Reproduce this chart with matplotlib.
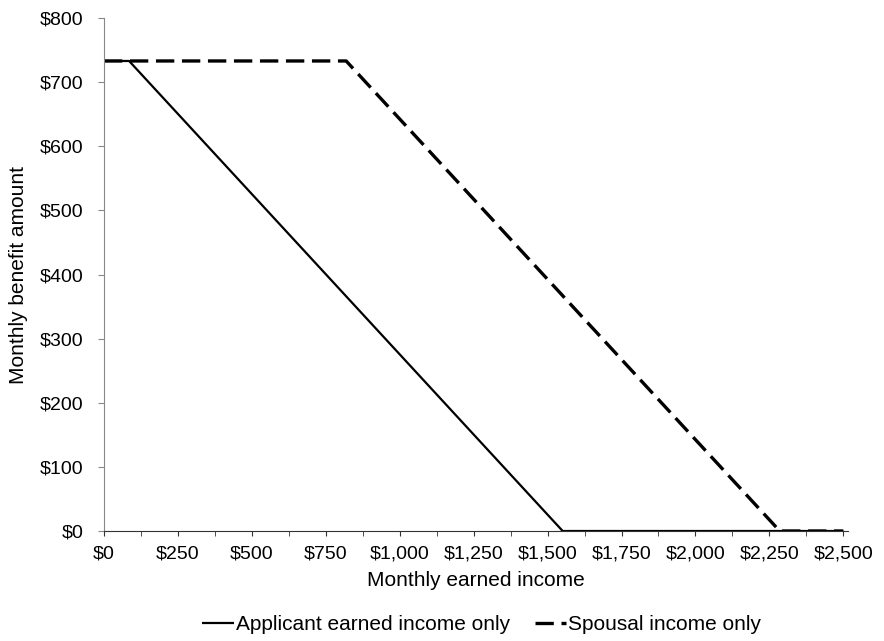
import numpy as np
import matplotlib
matplotlib.use("Agg")
import matplotlib.pyplot as plt
from matplotlib.ticker import MultipleLocator, FuncFormatter

plt.rcParams['font.family'] = ['Liberation Sans', 'DejaVu Sans']

# monthly earned income breakpoints and benefit amounts
applicant_x = [0, 85, 1551, 2500]
applicant_y = [733, 733, 0, 0]
spousal_x = [0, 819, 2285, 2500]
spousal_y = [733, 733, 0, 0]

fig = plt.figure(figsize=(8.84, 6.41), dpi=100)
ax = fig.add_axes([0.1176, 0.1716, 0.959 - 0.1176, 0.9719 - 0.1716])

ax.plot(applicant_x, applicant_y, color='black', lw=1.6, label='Applicant earned income only',
        solid_capstyle='butt')
ax.plot(spousal_x, spousal_y, color='black', lw=2.4, dashes=(5.5, 2.3),
        label='Spousal income only')

ax.set_xlim(0, 2515)
ax.set_ylim(0, 800)
ax.xaxis.set_major_locator(MultipleLocator(250))
ax.xaxis.set_minor_locator(MultipleLocator(125))
ax.yaxis.set_major_locator(MultipleLocator(100))
ax.xaxis.set_major_formatter(FuncFormatter(lambda v, p: '${:,.0f}'.format(v)))
ax.yaxis.set_major_formatter(FuncFormatter(lambda v, p: '${:,.0f}'.format(v)))

for s in ['top', 'right']:
    ax.spines[s].set_visible(False)
ax.spines['left'].set_color('#888888')
ax.spines['bottom'].set_color('#333333')
ax.tick_params(axis='y', direction='out', length=4, color='#888888', labelsize=14, pad=11)
ax.tick_params(axis='x', which='both', direction='out', length=3.5, color='#333333', labelsize=14, pad=7)
ax.tick_params(axis='x', which='minor', length=3.5)

ax.set_xlabel('Monthly earned income', fontsize=15, labelpad=6)
ax.set_ylabel('Monthly benefit amount', fontsize=15, labelpad=8.5)

fig.legend(loc='center', bbox_to_anchor=(0.545, 1 - 625 / 641), ncol=2, frameon=False,
           fontsize=15, handlelength=1.5, handletextpad=0.1, columnspacing=1.2)

fig.savefig('out.png', dpi=100)
